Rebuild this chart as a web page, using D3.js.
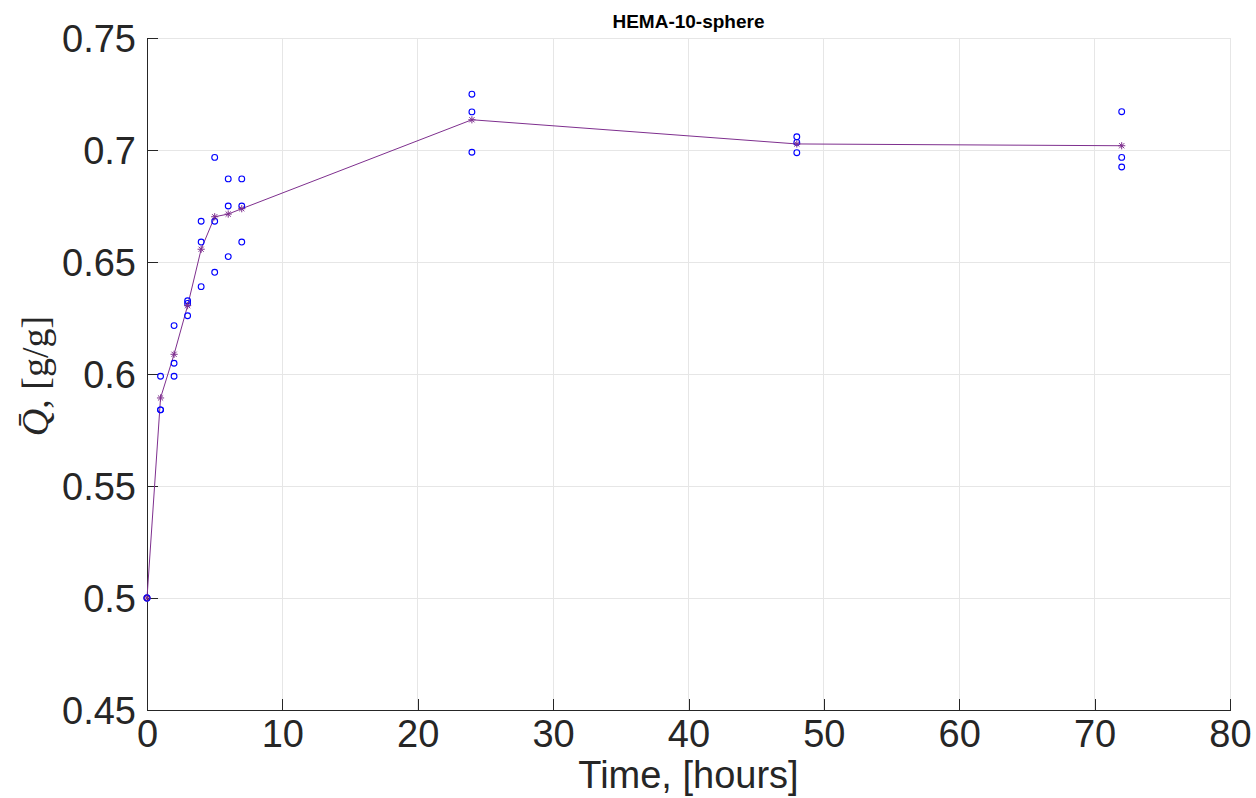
<!DOCTYPE html>
<html>
<head>
<meta charset="utf-8">
<script src="https://cdn.jsdelivr.net/npm/d3@7"></script>
<style>
  html, body { margin: 0; padding: 0; background: #fff; }
  svg { display: block; }
</style>
</head>
<body>
<svg id="chart" width="1256" height="798"></svg>
<script>
// ---- data ----
const times = [0, 1, 2, 3, 4, 5, 6, 7, 24, 48, 72];
const rep1  = [0.500, 0.599, 0.6216, 0.6327, 0.6682, 0.6967, 0.6871, 0.6871, 0.7249, 0.7059, 0.7171];
const rep2  = [0.500, 0.584, 0.6048, 0.6315, 0.6589, 0.6682, 0.6750, 0.6750, 0.7170, 0.7034, 0.6967];
const rep3  = [0.500, 0.584, 0.5990, 0.6260, 0.6390, 0.6454, 0.6524, 0.6589, 0.6990, 0.6988, 0.6924];
const means = [0.500, 0.5893, 0.6088, 0.6305, 0.6557, 0.6702, 0.6714, 0.6738, 0.7135, 0.7027, 0.7019];
const xTicks = [0, 10, 20, 30, 40, 50, 60, 70, 80];
const yTicks = [0.45, 0.5, 0.55, 0.6, 0.65, 0.7, 0.75];
const yTickLabels = ["0.45", "0.5", "0.55", "0.6", "0.65", "0.7", "0.75"];
const titleText = "HEMA-10-sphere";
const xLabelText = "Time, [hours]";

// ---- layout ----
const svg = d3.select("#chart");
const L = 147, R = 1230, T = 38, B = 710;
const x = d3.scaleLinear().domain([0, 80]).range([L, R]);
const y = d3.scaleLinear().domain([0.45, 0.75]).range([B, T]);

const axisColor = "#262626";
const gridColor = "#e6e6e6";
const font = "'Liberation Sans', Arial, Helvetica, sans-serif";

// grid
const grid = svg.append("g");
grid.selectAll("line.gx").data(xTicks.filter(d => d > 0)).join("line")
  .attr("x1", d => x(d)).attr("x2", d => x(d)).attr("y1", T).attr("y2", B)
  .attr("stroke", gridColor).attr("stroke-width", 1).attr("shape-rendering", "crispEdges");
grid.selectAll("line.gy").data(yTicks.filter(d => d > 0.45)).join("line")
  .attr("x1", L).attr("x2", R).attr("y1", d => y(d)).attr("y2", d => y(d))
  .attr("stroke", gridColor).attr("stroke-width", 1).attr("shape-rendering", "crispEdges");

// axes (MATLAB-style inward ticks)
const xAxis = d3.axisBottom(x).tickValues(xTicks).tickSizeInner(-11).tickSizeOuter(0).tickPadding(20);
const yAxis = d3.axisLeft(y).tickValues(yTicks).tickSizeInner(-11).tickSizeOuter(0).tickPadding(12)
  .tickFormat((d, i) => yTickLabels[i]);

const gx = svg.append("g").attr("transform", `translate(0,${B})`).call(xAxis);
const gy = svg.append("g").attr("transform", `translate(${L},0)`).call(yAxis);
[gx, gy].forEach(g => {
  g.select(".domain").attr("stroke", axisColor).attr("stroke-width", 1).attr("shape-rendering", "crispEdges");
  g.selectAll(".tick line").attr("stroke", axisColor).attr("stroke-width", 1).attr("shape-rendering", "crispEdges");
  g.selectAll(".tick text").attr("fill", axisColor).style("font-family", font).style("font-size", "38px");
});
gx.selectAll(".tick text").attr("dy", "0.71em").attr("y", 10);
gy.selectAll(".tick text").attr("dy", "0.36em").attr("x", -11);

// mean line
const purple = "#7E2F8E";
const line = d3.line().x((d, i) => x(times[i])).y(d => y(d));
svg.append("path").datum(means).attr("d", line)
  .attr("fill", "none").attr("stroke", purple).attr("stroke-width", 1);

// replicate circles
const reps = [rep1, rep2, rep3];
const pts = [];
reps.forEach(r => r.forEach((v, i) => pts.push([times[i], v])));
svg.append("g").selectAll("circle").data(pts).join("circle")
  .attr("cx", d => x(d[0])).attr("cy", d => y(d[1])).attr("r", 2.9)
  .attr("fill", "none").attr("stroke", "#0000FF").attr("stroke-width", 1.1);

// asterisk markers for means
const s = 3.6, sd = s * 0.72;
const star = `M${-s},0L${s},0M0,${-s}L0,${s}M${-sd},${-sd}L${sd},${sd}M${-sd},${sd}L${sd},${-sd}`;
svg.append("g").selectAll("path").data(means).join("path")
  .attr("transform", (d, i) => `translate(${x(times[i])},${y(d)})`)
  .attr("d", star).attr("fill", "none").attr("stroke", purple).attr("stroke-width", 1);

// title
svg.append("text").attr("x", (L + R) / 2).attr("y", 28).attr("text-anchor", "middle")
  .style("font-family", font).style("font-size", "19px").style("font-weight", "bold")
  .attr("fill", "#000").text(titleText);

// x label
svg.append("text").attr("x", (L + R) / 2).attr("y", 788).attr("text-anchor", "middle")
  .style("font-family", font).style("font-size", "38px").attr("fill", axisColor).text(xLabelText);

// y label (LaTeX-like)
const yl = svg.append("text").attr("transform", "translate(48,376) rotate(-90)")
  .attr("text-anchor", "middle")
  .style("font-family", "'Liberation Serif', 'DejaVu Serif', serif").style("font-size", "38px")
  .attr("fill", axisColor);
yl.append("tspan").style("font-style", "italic").text("Q\u0304");
yl.append("tspan").text(", [g/g]");
</script>
</body>
</html>
